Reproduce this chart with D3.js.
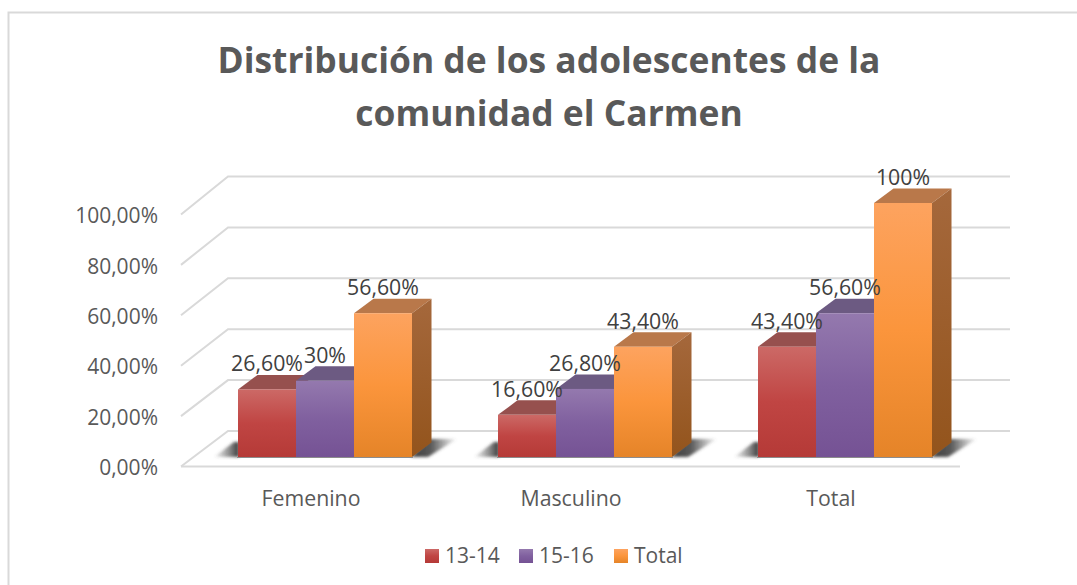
<!DOCTYPE html>
<html><head><meta charset="utf-8">
<script src="https://cdn.jsdelivr.net/npm/d3@7"></script>
<style>html,body{margin:0;padding:0;background:#fff}svg{display:block}text{font-family:"Open Sans",sans-serif}</style>
</head><body><div id="c"></div>
<script>
const categories=["Femenino","Masculino","Total"];
const seriesNames=["13-14","15-16","Total"];
const v1314=[26.6,16.6,43.4];
const v1516=[30,26.8,56.6];
const vTotal=[56.6,43.4,100];
const l1314=["26,60%","16,60%","43,40%"];
const l1516=["30%","26,80%","56,60%"];
const lTotal=["56,60%","43,40%","100%"];
const yTicks=[0,20,40,60,80,100];
const titleLines=["Distribución de los adolescentes de la","comunidad el Carmen"];

const W=1077,H=585;
const svg=d3.select("#c").append("svg").attr("width",W).attr("height",H);
const defs=svg.append("defs");
const pal=[
 {top:"#96504e",front:["#cc6966","#c04543","#b53a37"]},
 {top:"#6c5a82",front:["#9479ae","#80609f","#755294"]},
 {top:"#b9784a",front:["#fda35f","#fb953c","#e58428"]}
];
pal.forEach((p,i)=>{
 const g=defs.append("linearGradient").attr("id","f"+i).attr("x1",0).attr("y1",0).attr("x2",0).attr("y2",1);
 p.front.forEach((c,j)=>g.append("stop").attr("offset",j/2).attr("stop-color",c));
});
const sg=defs.append("linearGradient").attr("id","s2").attr("x1",0).attr("y1",0).attr("x2",0).attr("y2",1);
sg.append("stop").attr("offset",0).attr("stop-color","#a5683c");
sg.append("stop").attr("offset",1).attr("stop-color","#93541c");
const shL=defs.append("linearGradient").attr("id","shL").attr("x1",0).attr("y1",0).attr("x2",1).attr("y2",0);
shL.append("stop").attr("offset",0).attr("stop-color","#505050").attr("stop-opacity",0.02);
shL.append("stop").attr("offset",1).attr("stop-color","#2f2f2f").attr("stop-opacity",0.95);
const shR=defs.append("linearGradient").attr("id","shR").attr("x1",0).attr("y1",0).attr("x2",1).attr("y2",0);
shR.append("stop").attr("offset",0).attr("stop-color","#2f2f2f").attr("stop-opacity",0.95);
shR.append("stop").attr("offset",0.45).attr("stop-color","#3f3f3f").attr("stop-opacity",0.85);
shR.append("stop").attr("offset",1).attr("stop-color","#505050").attr("stop-opacity",0.02);
defs.append("filter").attr("id","blur").attr("x","-30%").attr("y","-50%").attr("width","160%").attr("height","200%")
 .append("feGaussianBlur").attr("stdDeviation",1.6);

// frame
svg.append("path").attr("d",`M8.5,${H}V12.5H${W}`).attr("fill","none").attr("stroke","#d9d9d9").attr("stroke-width",2);

// title
svg.append("g").selectAll("text").data(titleLines).join("text")
 .attr("x",549).attr("y",(d,i)=>73+i*53).attr("text-anchor","middle")
 .attr("font-size",35.4).attr("font-weight",700).attr("fill","#595959").text(d=>d);

// scales
const yFront=d3.scaleLinear().domain([0,100]).range([466.5,214.5]);
const yBack=d3.scaleLinear().domain([0,100]).range([431,176.5]);
const yBar=d3.scaleLinear().domain([0,100]).range([457,203]);
const xFront=181,xBack=228,xEnd=1010,xFloorEnd=960,barDX=19.5,barDY=14.5;
const x0=d3.scaleBand().domain(categories).range([238,1018]).padding(0);
const x1=d3.scaleBand().domain(seriesNames).range([0,174]);
const catOff=c=>x0(c);

// grid
const grid=svg.append("g").attr("fill","none").attr("stroke","#d9d9d9").attr("stroke-width",2);
yTicks.forEach(t=>{
 grid.append("path").attr("d",`M${xFront},${yFront(t)}L${xBack},${yBack(t)}H${xEnd}`);
});
grid.append("path").attr("d",`M${xFront},${yFront(0)}H${xFloorEnd}`);

// y axis labels
const ax=svg.append("g").attr("transform","translate(158,1.5)")
 .call(d3.axisLeft(yFront).tickValues(yTicks).tickSize(0).tickPadding(0)
 .tickFormat(d=>d3.format(".2f")(d).replace(".",",")+"%"));
ax.select(".domain").remove();
ax.selectAll("text").attr("font-size",21).attr("fill","#595959").style("font-family",'"Open Sans",sans-serif');

// x axis labels
svg.append("g").selectAll("text").data(categories).join("text")
 .attr("x",c=>catOff(c)+73).attr("y",506).attr("text-anchor","middle")
 .attr("font-size",21.3).attr("fill","#595959").text(d=>d);

// shadows + bars
const series=[v1314,v1516,vTotal];
const labels=[l1314,l1516,lTotal];
categories.forEach((c,ci)=>{
 const g=svg.append("g").attr("transform",`translate(${catOff(c)},0)`);
 const b=yBar(0),w=x1.bandwidth();
 g.append("path").attr("filter","url(#blur)").attr("fill","url(#shL)")
  .attr("d",`M-24,${b}L-4,${b-15}H1V${b}Z`);
 g.append("path").attr("filter","url(#blur)").attr("fill","url(#shR)")
  .attr("d",`M173,${b}L192,${b-18}H219L190,${b}Z`);
 seriesNames.forEach((s,si)=>{
  const v=series[si][ci],x=x1(s),top=yBar(v),p=pal[si];
  g.append("path").attr("fill",p.top)
   .attr("d",`M${x},${top}L${x+barDX},${top-barDY}H${x+w+barDX}L${x+w},${top}Z`);
  if(si==2) g.append("path").attr("fill","url(#s2)")
   .attr("d",`M${x+w},${top}L${x+w+barDX},${top-barDY}V${b-barDY}L${x+w},${b}Z`);
  g.append("rect").attr("x",x).attr("y",top).attr("width",w).attr("height",b-top).attr("fill",`url(#f${si})`);
 });
 g.append("line").attr("x1",-1).attr("x2",175).attr("y1",b+.5).attr("y2",b+.5).attr("stroke","#8c8c8c").attr("stroke-width",1);
});
// data labels on top
categories.forEach((c,ci)=>{
 const g=svg.append("g").attr("transform",`translate(${catOff(c)},0)`);
 seriesNames.forEach((s,si)=>{
  g.append("text").attr("x",x1(s)+x1.bandwidth()/2).attr("y",yBar(series[si][ci])-18)
   .attr("text-anchor","middle").attr("font-size",21.3).attr("fill","#404040").text(labels[si][ci]);
 });
});

// legend
const lg=svg.append("g");
const legX=[425,519,614];
seriesNames.forEach((s,i)=>{
 lg.append("rect").attr("x",legX[i]).attr("y",549).attr("width",14).attr("height",14).attr("fill",`url(#f${i})`);
 lg.append("text").attr("x",legX[i]+20).attr("y",563).attr("font-size",21).attr("fill","#595959").text(s);
});
</script></body></html>
